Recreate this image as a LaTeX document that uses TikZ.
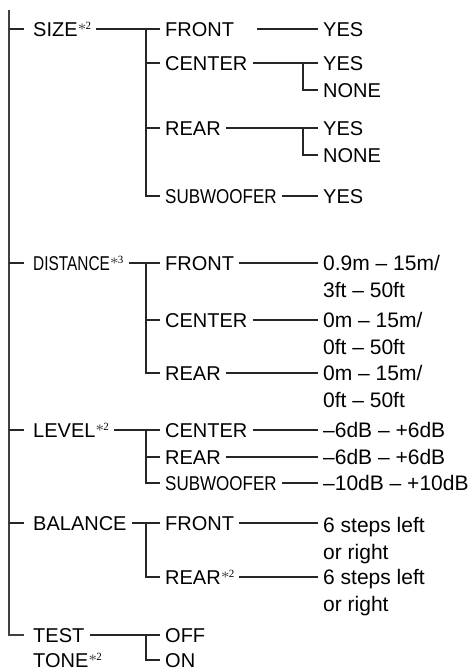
\documentclass[tikz,border=0pt]{standalone}
\usepackage{fontspec}
\setmainfont{Liberation Sans}
\newfontfamily\notefont{Liberation Serif}
\usepackage{tikz}

\newcommand{\note}[1]{\kern0.5pt\raisebox{2pt}{\fontsize{16}{16}\selectfont\notefont\color{black!70}*}%
  \kern-0.5pt\raisebox{7pt}{\fontsize{11}{11}\selectfont\notefont #1}}
\newcommand{\narrow}[2][0.8]{\scalebox{#1}[1]{#2}}

\begin{document}
\begin{tikzpicture}[x=1pt, y=-1pt,
  item/.style={anchor=west, inner xsep=5pt, inner ysep=0pt, text height=14.3pt,
               text depth=0pt, font=\fontsize{20}{26}\selectfont},
  value/.style={anchor=west, inner xsep=5pt, inner ysep=0pt, text height=15pt,
               text depth=0pt, font=\fontsize{21}{27}\selectfont},
  multi/.style={anchor=north west, inner xsep=5pt, inner ysep=0pt, align=left,
               font=\fontsize{21}{27}\selectfont},
  link/.style={line width=1.3pt, black!85},
  trunk/.style={line width=1.8pt, black!75}
]
\useasboundingbox (0,0) rectangle (472,672);

% menu items
\node[item] (size)  at (28,29)  {SIZE\note{2}};
\node[item] (dist)  at (28,263) {\narrow[0.77]{DISTANCE}\note{3}};
\node[item] (level) at (28,430) {LEVEL\note{2}};
\node[item] (bal)   at (28,523) {BALANCE};
\node[item] (test)  at (28,635) {TEST};
\node[item] (tone)  at (28,660) {TONE\note{2}};

% SIZE
\node[item] (szF)  at (160,29)  {FRONT};
\node[item] (szC)  at (160,63)  {CENTER};
\node[item] (szR)  at (160,128) {REAR};
\node[item] (szS)  at (160,196) {\narrow[0.85]{SUBWOOFER}};
\node[item] (szFY) at (318,29)  {YES};
\node[item] (szCY) at (318,63)  {YES};
\node[item] (szCN) at (318,90)  {NONE};
\node[item] (szRY) at (318,128) {YES};
\node[item] (szRN) at (318,155) {NONE};
\node[item] (szSY) at (318,196) {YES};

% DISTANCE
\node[item]  (dsF)  at (160,263)   {FRONT};
\node[item]  (dsC)  at (160,320)   {CENTER};
\node[item]  (dsR)  at (160,373)   {REAR};
\node[multi] (dsFV) at (318,255.5) {0.9m – 15m/\\3ft – 50ft};
\node[multi] (dsCV) at (318,312.5) {0m – 15m/\\0ft – 50ft};
\node[multi] (dsRV) at (318,365.5) {0m – 15m/\\0ft – 50ft};

% LEVEL
\node[item]  (lvC)  at (160,430) {CENTER};
\node[item]  (lvR)  at (160,457) {REAR};
\node[item]  (lvS)  at (160,483) {\narrow[0.85]{SUBWOOFER}};
\node[value] (lvCV) at (318,430) {–6dB – +6dB};
\node[value] (lvRV) at (318,457) {–6dB – +6dB};
\node[value] (lvSV) at (318,483) {–10dB – +10dB};

% BALANCE
\node[item]  (blF)  at (160,523)   {FRONT};
\node[item]  (blR)  at (160,577)   {REAR\note{2}};
\node[multi] (blFV) at (318,517.5) {6 steps left\\or right};
\node[multi] (blRV) at (318,569.5) {6 steps left\\or right};

% TEST TONE
\node[item] (off) at (160,635) {OFF};
\node[item] (on)  at (160,660) {ON};

% bus lines
\coordinate (top)   at (9,10);
\coordinate (szBus) at (146,29);
\coordinate (dsBus) at (146,263);
\coordinate (lvBus) at (146,430);
\coordinate (blBus) at (146,523);
\coordinate (tsBus) at (146,635);
\coordinate (cBus)  at (303,63);
\coordinate (rBus)  at (303,128);

\draw[trunk, shorten >=4pt] (top) |- (test.west);
\foreach \n in {size,dist,level,bal}
  \draw[link, shorten >=4pt] (top |- \n.west) -- (\n.west);

\draw[link] (size.east)  -- (szF.west);
\draw[link] (dist.east)  -- (dsF.west);
\draw[link] (level.east) -- (lvC.west);
\draw[link] (bal.east)   -- (blF.west);
\draw[link] (test.east)  -- (off.west);

\draw[link] (szBus) |- (szS.west);
\foreach \n in {szC,szR}
  \draw[link] (szBus |- \n.west) -- (\n.west);
\draw[link] (dsBus) |- (dsR.west);
\draw[link] (dsBus |- dsC.west) -- (dsC.west);
\draw[link] (lvBus) |- (lvS.west);
\draw[link] (lvBus |- lvR.west) -- (lvR.west);
\draw[link] (blBus) |- (blR.west);
\draw[link] (tsBus) |- (on.west);

% values
\draw[link, shorten <=18pt] (szF.east) -- (szFY.west);
\draw[link] (szC.east) -- (szCY.west);
\draw[link] (cBus) |- (szCN.west);
\draw[link] (szR.east) -- (szRY.west);
\draw[link] (rBus) |- (szRN.west);
\draw[link] (szS.east) -- (szSY.west);
\foreach \a/\b in {dsF/dsFV, dsC/dsCV, dsR/dsRV, blF/blFV, blR/blRV}
  \draw[link] (\a.east) -- (\a.east -| \b.west);
\foreach \a/\b in {lvC/lvCV, lvR/lvRV, lvS/lvSV}
  \draw[link] (\a.east) -- (\b.west);
\end{tikzpicture}
\end{document}
